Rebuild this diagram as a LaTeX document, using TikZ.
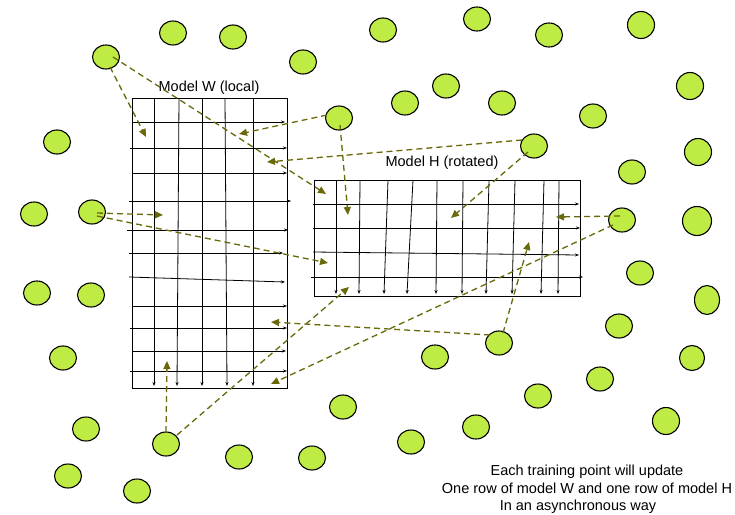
\documentclass[tikz,border=0pt]{standalone}
\usepackage{fontspec}
\setmainfont{Liberation Sans}
\usetikzlibrary{shapes.geometric,arrows.meta}
\definecolor{blobfill}{RGB}{191,235,69}
\definecolor{olivedash}{RGB}{105,105,10}
\begin{document}
\begin{tikzpicture}[x=1pt,y=-1pt,
  blob/.style={ellipse,draw=black,line width=1.1pt,fill=blobfill,minimum width=27pt,minimum height=24pt,inner sep=0pt},
  gridbox/.style={draw=black,line width=1.1pt,rectangle,inner sep=0pt,anchor=north west},
  gline/.style={draw=black,line width=0.8pt,-{Stealth[length=4pt,width=3pt]}},
  link/.style={draw=olivedash,line width=1.3pt,dash pattern=on 6pt off 4pt,-{Triangle[length=8pt,width=7pt,fill=olivedash]}},
  lbl/.style={font=\fontsize{14.5}{17.5}\selectfont,inner sep=0pt,anchor=base}]
\useasboundingbox (0,0) rectangle (735,514);
\fill[white] (0,0) rectangle (735,514);

% Model W grid
\node[gridbox,minimum width=155pt,minimum height=290pt] (W) at (132,98) {};
\foreach \a/\b in {154/154,179/177,202/202,225/227,253/253}
  \draw[gline] (\a,98) -- (\b,386);
\foreach \ya/\yb/\xs/\xe in {122/122/132/285,148/148/130/287,173/173/132/287,201/201/129/291,230/230/127/288,253/253/129/283,277/282/129/285,306/306/132/287,328/328/130/287,351/351/132/286,371/371/130/287}
  \draw[gline] (\xs,\ya) -- (\xe,\yb);
\node[lbl] (lw) at (209,91) {Model W (local)};

% Model H grid
\node[gridbox,minimum width=266pt,minimum height=116pt] (H) at (314,180) {};
\foreach \a/\b in {336/336,360/359,388/384,413/407,437/436,463/462,489/486,515/512,544/541,559/558}
  \draw[gline] (\a,180) -- (\b,294);
\foreach \ya/\yb/\xs/\xe in {204/204/313/579,228/228/313/580,252/255/313/579,277/277/311/583}
  \draw[gline] (\xs,\ya) -- (\xe,\yb);
\node[lbl] (lh) at (442,166) {Model H (rotated)};

% training points
\node[blob] (c1) at (106,57) {};
\node[blob] (c2) at (173,33) {};
\node[blob] (c3) at (233,37) {};
\node[blob] (c4) at (303,62) {};
\node[blob] (c5) at (383,30) {};
\node[blob] (c6) at (477,19) {};
\node[blob] (c7) at (549,35) {};
\node[blob,minimum height=27pt] (c8) at (641,25) {};
\node[blob,minimum height=27pt] (c9) at (690,86) {};
\node[blob] (c10) at (446,86) {};
\node[blob] (c11) at (405,103) {};
\node[blob] (c12) at (502,103) {};
\node[blob] (c13) at (593,116) {};
\node[blob] (c14) at (339,118) {};
\node[blob] (c15) at (534,146) {};
\node[blob,minimum height=27pt] (c16) at (698,152) {};
\node[blob] (c17) at (632,172) {};
\node[blob] (c18) at (622,220) {};
\node[blob,minimum width=29pt,minimum height=29pt] (c19) at (697,221) {};
\node[blob] (c20) at (640,273) {};
\node[blob,minimum width=25pt,minimum height=29pt] (c21) at (707,300) {};
\node[blob] (c22) at (619,326) {};
\node[blob,minimum width=25pt,minimum height=25pt] (c23) at (692,358) {};
\node[blob] (c24) at (600,379) {};
\node[blob,minimum height=27pt] (c25) at (666,421) {};
\node[blob] (c26) at (538,396) {};
\node[blob] (c27) at (499,343) {};
\node[blob] (c28) at (435,357) {};
\node[blob] (c29) at (343,407) {};
\node[blob] (c30) at (411,442) {};
\node[blob] (c31) at (476,427) {};
\node[blob] (c32) at (86,429) {};
\node[blob] (c33) at (166,444) {};
\node[blob] (c34) at (239,457) {};
\node[blob] (c35) at (68,476) {};
\node[blob] (c36) at (137,491) {};
\node[blob] (c37) at (57,142) {};
\node[blob] (c38) at (34,214) {};
\node[blob] (c39) at (92,212) {};
\node[blob] (c40) at (37,293) {};
\node[blob] (c41) at (91,295) {};
\node[blob] (c42) at (63,358) {};
\node[blob] (c43) at (312,458) {};

% update targets
\coordinate (e1) at (146,137);
\coordinate (e2) at (326,194);
\coordinate (e3) at (239,134);
\coordinate (e4) at (348,215);
\coordinate (e5) at (267,162);
\coordinate (e6) at (451,218);
\coordinate (e7) at (163,215);
\coordinate (e8) at (328,263);
\coordinate (e9) at (556,217);
\coordinate (e10) at (271,384);
\coordinate (e11) at (271,322);
\coordinate (e12) at (529,242);
\coordinate (e13) at (167,361);
\coordinate (e14) at (349,287);

\draw[link] ([shift={(4,10)}]c1.center) -- (e1);
\draw[link] ([shift={(7,0)}]c1.center) -- (e2);
\draw[link] ([shift={(-12,-3)}]c14.center) -- (e3);
\draw[link] ([shift={(1,7)}]c14.center) -- (e4);
\draw[link] ([shift={(-12,-6)}]c15.center) -- (e5);
\draw[link] ([shift={(-6,6)}]c15.center) -- (e6);
\draw[link] ([shift={(5,1)}]c39.center) -- (e7);
\draw[link] ([shift={(5,4)}]c39.center) -- (e8);
\draw[link] ([shift={(-2,-4)}]c18.center) -- (e9);
\draw[link] ([shift={(-9,5)}]c18.center) -- (e10);
\draw[link] ([shift={(-9,-8)}]c27.center) -- (e11);
\draw[link] ([shift={(4,-10)}]c27.center) -- (e12);
\draw[link] ([shift={(0,-12)}]c33.center) -- (e13);
\draw[link] ([shift={(11,-9)}]c33.center) -- (e14);

% caption
\node[lbl] (t1) at (587,475) {Each training point will update};
\node[lbl] (t2) at (587,493) {One row of model W and one row of model H};
\node[lbl] (t3) at (578,510) {In an asynchronous way};
\end{tikzpicture}
\end{document}
